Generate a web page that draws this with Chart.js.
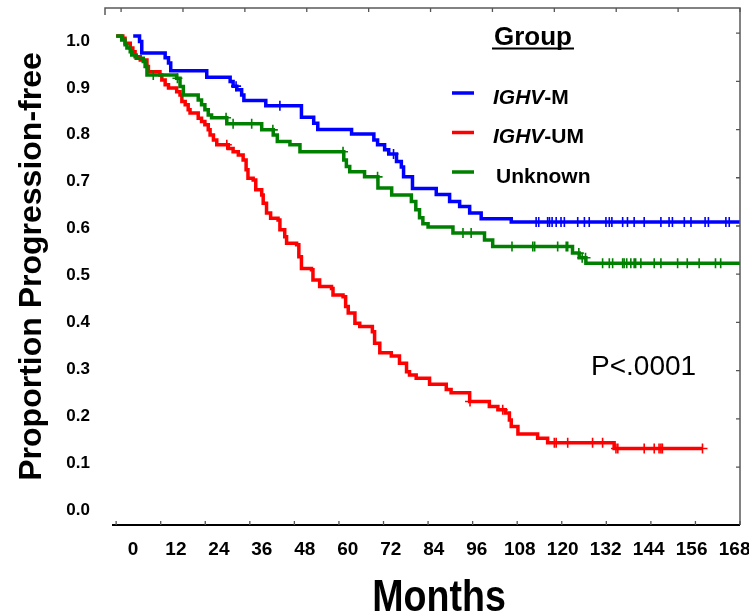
<!DOCTYPE html>
<html>
<head>
<meta charset="utf-8">
<script src="https://cdn.jsdelivr.net/npm/chart.js@4.4.0/dist/chart.umd.min.js"></script>
<style>
  html, body { margin: 0; padding: 0; background: #fff; }
</style>
</head>
<body>
<canvas id="kmChart" width="749" height="614"></canvas>
<script>
const groups = ['IGHV-M', 'IGHV-UM', 'Unknown'];
const groupColors = ['#0000ff', '#ff0000', '#008000'];

// IGHV-M: step times (months) and proportion progression-free after each step
const mTimes = [4.6, 6.3, 6.9, 13.2, 14.1, 14.7, 24.4, 30.7, 31.5, 32.5, 33.8, 34.4, 40.3, 49.9, 53.2, 54.3,
  63.4, 69.4, 70.4, 72.3, 73.4, 75.5, 76.8, 77.4, 79.8, 86.2, 89.8, 92.5, 95.2, 98.3, 106.4, 168];
const mSurv = [1.0, 0.988, 0.963, 0.953, 0.942, 0.925, 0.911, 0.902, 0.892, 0.884, 0.873, 0.861, 0.850, 0.825, 0.812, 0.799,
  0.789, 0.776, 0.766, 0.755, 0.746, 0.730, 0.718, 0.697, 0.672, 0.659, 0.644, 0.633, 0.619, 0.607, 0.600, 0.600];
const mCensored = [32.3, 44.1, 74.7, 113.1, 113.8, 116.2, 116.7, 117.4, 118.5, 119.8, 120.7, 124.3, 126.1, 127.4,
  131.9, 132.8, 133.5, 136.4, 137.7, 139.5, 142.2, 146.7, 148.9, 149.8, 153.0, 154.8, 158.6, 159.5, 164.2, 165.1];

// IGHV-UM
const umTimes = [0, 1.8, 2.4, 3.8, 4.5, 5.1, 6.5, 8.3, 8.7, 11.8, 12.3, 13.2, 14.1, 16.3, 17.2, 17.7, 18.6, 19.4, 19.9,
  22.1, 23.0, 23.9, 24.8, 25.3, 26.2, 27.1, 30.2, 31.5, 32.9, 34.2, 35.0, 35.5, 36.9, 37.6, 39.2, 39.6, 40.5, 41.6,
  43.6, 44.1, 45.4, 45.9, 48.6, 49.2, 49.9, 52.6, 53.0, 54.8, 58.0, 58.4, 61.1, 61.8, 62.5, 64.3, 65.6, 69.0, 69.6,
  71.0, 74.1, 76.3, 78.2, 79.0, 80.8, 84.4, 88.9, 90.2, 95.2, 100.5, 102.8, 104.8, 105.9, 106.4, 108.2, 113.5, 116.2,
  134.1, 157.9];
const umSurv = [1.0, 0.995, 0.984, 0.974, 0.966, 0.955, 0.948, 0.934, 0.923, 0.916, 0.905, 0.895, 0.888, 0.880, 0.873,
  0.859, 0.852, 0.841, 0.834, 0.823, 0.816, 0.809, 0.798, 0.787, 0.776, 0.766, 0.758, 0.751, 0.744, 0.733, 0.712,
  0.694, 0.690, 0.669, 0.658, 0.640, 0.619, 0.608, 0.604, 0.583, 0.568, 0.554, 0.551, 0.525, 0.500, 0.497, 0.475,
  0.461, 0.457, 0.443, 0.439, 0.418, 0.404, 0.382, 0.375, 0.364, 0.339, 0.319, 0.312, 0.296, 0.278, 0.271, 0.264,
  0.251, 0.240, 0.233, 0.214, 0.203, 0.196, 0.189, 0.174, 0.160, 0.144, 0.135, 0.125, 0.113, 0.113];
const umCensored = [29.8, 95.3, 104.1, 118.0, 118.5, 121.6, 128.3, 131.0, 134.6, 135.1, 142.2, 144.9, 146.2, 146.7,
  147.1, 157.9];

// Unknown
const unkTimes = [0, 1.5, 2.4, 2.9, 3.8, 4.2, 5.4, 7.3, 7.8, 8.3, 16.3, 17.2, 18.1, 22.1, 23.0, 23.9, 24.8, 25.7,
  29.8, 39.2, 42.3, 43.4, 46.8, 49.5, 61.3, 62.0, 62.9, 66.9, 70.5, 74.2, 79.5, 80.7, 81.7, 82.6, 84.0, 90.7, 99.2,
  101.4, 122.9, 124.7, 126.5, 168];
const unkSurv = [1.0, 0.991, 0.981, 0.974, 0.966, 0.959, 0.952, 0.945, 0.934, 0.916, 0.909, 0.891, 0.873, 0.862, 0.852,
  0.841, 0.830, 0.824, 0.811, 0.798, 0.787, 0.773, 0.766, 0.751, 0.733, 0.719, 0.708, 0.697, 0.673, 0.658, 0.644,
  0.626, 0.609, 0.596, 0.589, 0.576, 0.561, 0.547, 0.533, 0.523, 0.511, 0.511];
const unkCensored = [10.0, 16.5, 29.6, 31.5, 36.5, 42.2, 61.1, 70.4, 93.4, 95.6, 106.6, 112.2, 112.7, 118.9, 121.2,
  121.6, 124.6, 125.5, 126.4, 131.0, 132.8, 133.7, 136.4, 136.8, 137.5, 138.6, 139.5, 139.9, 141.3, 144.9, 146.7,
  151.2, 153.8, 157.0, 161.4, 162.8];

const monthTicks = [0, 12, 24, 36, 48, 60, 72, 84, 96, 108, 120, 132, 144, 156, 168];
const propTicks = [0, 0.1, 0.2, 0.3, 0.4, 0.5, 0.6, 0.7, 0.8, 0.9, 1.0];
const topTickMarks = [0, 1, 2, 3, 4, 5, 6, 7, 8, 9, 10];
const rightTickMarks = [0, 1, 2, 3, 4, 5, 6, 7, 8, 9];

const legendTitle = 'Group';
const pValueText = 'P<.0001';
const xTitle = 'Months';
const yTitle = 'Proportion Progression-free';

const SANS = '"Liberation Sans", Arial, sans-serif';

function curve(times, surv) {
  return times.map((t, i) => ({ x: t, y: surv[i] }));
}

// value of the step curve at time t
function survAt(times, surv, t) {
  let s = surv[0];
  for (let i = 0; i < times.length; i++) {
    if (times[i] <= t) s = surv[i];
  }
  return s;
}

function marks(censored, times, surv) {
  return censored.map(t => ({ x: t, y: survAt(times, surv, t) }));
}

const series = [
  { times: mTimes, surv: mSurv, cens: mCensored, order: 2 },
  { times: umTimes, surv: umSurv, cens: umCensored, order: 1 },
  { times: unkTimes, surv: unkSurv, cens: unkCensored, order: 0 }
];

const datasets = [];
series.forEach((s, i) => {
  datasets.push({
    label: groups[i],
    data: curve(s.times, s.surv),
    borderColor: groupColors[i],
    borderWidth: 3.5,
    stepped: 'before',
    pointRadius: 0,
    fill: false,
    order: s.order
  });
  datasets.push({
    label: groups[i] + ' censored',
    data: marks(s.cens, s.times, s.surv),
    showLine: false,
    pointStyle: 'cross',
    pointRadius: 5,
    pointBorderWidth: 1.6,
    pointBorderColor: groupColors[i],
    pointBackgroundColor: groupColors[i],
    order: s.order
  });
});

function setTicks(values) {
  return scale => { scale.ticks = values.map(v => ({ value: v })); };
}

// frame lines and inward tick marks
const framePlugin = {
  id: 'frame',
  afterDraw(chart) {
    const { ctx, chartArea: a, scales } = chart;
    ctx.save();
    ctx.strokeStyle = '#5a5a5a';
    ctx.lineWidth = 1.5;
    ctx.beginPath();
    ctx.moveTo(a.left, a.top + 7);
    ctx.lineTo(a.left, a.top);
    ctx.lineTo(a.right, a.top);
    ctx.lineTo(a.right, a.bottom);
    ctx.stroke();

    ctx.strokeStyle = '#000';
    ctx.lineWidth = 2.2;
    ctx.beginPath();
    ctx.moveTo(a.left + 7, a.bottom);
    ctx.lineTo(a.right, a.bottom);
    ctx.stroke();

    ctx.strokeStyle = '#555';
    ctx.lineWidth = 1.3;
    ctx.beginPath();
    scales.x.ticks.forEach(t => {
      const px = scales.x.getPixelForValue(t.value);
      ctx.moveTo(px, a.bottom);
      ctx.lineTo(px, a.bottom - 4);
    });
    scales.xTop.ticks.forEach(t => {
      const px = scales.xTop.getPixelForValue(t.value);
      ctx.moveTo(px, a.top);
      ctx.lineTo(px, a.top + 4);
    });
    scales.yRight.ticks.forEach(t => {
      const py = scales.yRight.getPixelForValue(t.value);
      ctx.moveTo(a.right, py);
      ctx.lineTo(a.right - 4, py);
    });
    ctx.stroke();
    ctx.restore();
  }
};

// group legend, p-value and x title
const textPlugin = {
  id: 'texts',
  afterDraw(chart) {
    const ctx = chart.ctx;
    ctx.save();
    ctx.fillStyle = '#000';
    ctx.textBaseline = 'alphabetic';
    ctx.textAlign = 'left';

    ctx.font = 'bold 26px ' + SANS;
    ctx.fillText(legendTitle, 494, 45);
    const tw = ctx.measureText(legendTitle).width;
    ctx.fillRect(492, 47.5, tw + 4, 2);

    groups.forEach((g, i) => {
      const y = 93 + i * 39.5;
      ctx.strokeStyle = groupColors[i];
      ctx.lineWidth = 3.5;
      ctx.beginPath();
      ctx.moveTo(452, y);
      ctx.lineTo(474, y);
      ctx.stroke();

      let x = g.startsWith('IGHV') ? 493 : 496;
      const base = y + 10.5;
      if (g.startsWith('IGHV')) {
        ctx.font = 'italic bold 21px ' + SANS;
        ctx.fillText('IGHV', x, base);
        x += ctx.measureText('IGHV').width;
        ctx.font = 'bold 21px ' + SANS;
        ctx.fillText(g.slice(4), x, base);
      } else {
        ctx.font = 'bold 21px ' + SANS;
        ctx.fillText(g, x, base);
      }
    });

    ctx.font = '28px ' + SANS;
    ctx.fillText(pValueText, 591, 375);

    // condensed bold title under the axis
    ctx.translate(439, 611);
    ctx.scale(0.835, 1);
    ctx.font = 'bold 45px ' + SANS;
    ctx.textAlign = 'center';
    ctx.fillText(xTitle, 0, 0);
    ctx.restore();
  }
};

new Chart(document.getElementById('kmChart').getContext('2d'), {
  type: 'line',
  data: { datasets },
  plugins: [framePlugin, textPlugin],
  options: {
    responsive: false,
    animation: false,
    events: [],
    devicePixelRatio: 1,
    layout: { padding: { top: 8, right: 9, left: 0, bottom: 0 } },
    plugins: { legend: { display: false }, tooltip: { enabled: false } },
    scales: {
      x: {
        type: 'linear', display: false, min: -3, max: 168,
        afterBuildTicks: setTicks(monthTicks)
      },
      xLabels: {
        type: 'linear', position: 'bottom', weight: 1, min: -7.8, max: 169.5,
        grid: { display: false, drawTicks: false },
        border: { display: false },
        ticks: {
          autoSkip: false, maxRotation: 0, padding: 13, color: '#000',
          font: { family: SANS, size: 19, weight: 'bold' }
        },
        afterBuildTicks: setTicks(monthTicks),
        afterFit: s => { s.height = 89; s.paddingLeft = 0; s.paddingRight = 0; }
      },
      xTop: {
        type: 'linear', position: 'top', display: false, min: -0.26, max: 10,
        afterBuildTicks: setTicks(topTickMarks)
      },
      y: {
        type: 'linear', display: false, min: -0.0516, max: 1.06
      },
      yLabels: {
        type: 'linear', position: 'left', weight: 1, min: -0.032, max: 1.0704,
        grid: { display: false, drawTicks: false },
        border: { display: false },
        ticks: {
          padding: 15, color: '#000',
          font: { family: SANS, size: 17, weight: 'bold' },
          callback: v => v.toFixed(1)
        },
        title: {
          display: true, text: yTitle, color: '#000',
          font: { family: SANS, size: 32, weight: 'bold', lineHeight: 1.2 },
          padding: { top: 13, bottom: 0 }
        },
        afterBuildTicks: setTicks(propTicks),
        afterFit: s => { s.width = 105; s.paddingTop = 0; s.paddingBottom = 0; }
      },
      yRight: {
        type: 'linear', position: 'right', display: false, reverse: true, min: -0.52, max: 10.2,
        afterBuildTicks: setTicks(rightTickMarks)
      }
    }
  }
});
</script>
</body>
</html>
